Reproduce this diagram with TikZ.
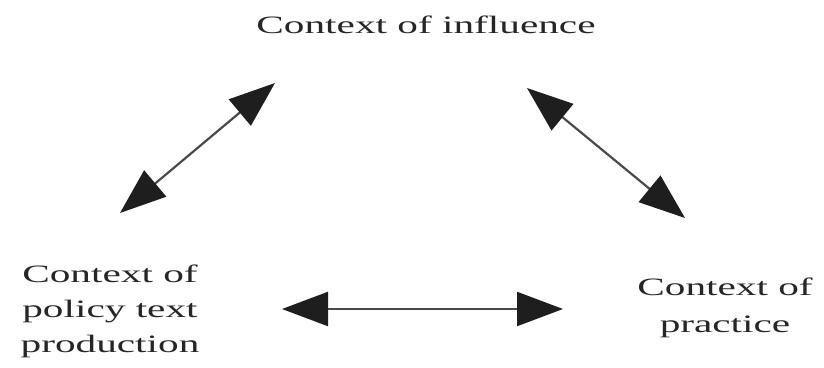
\documentclass[tikz,border=0pt]{standalone}
\usepackage{fontspec}
\setmainfont{Liberation Serif}
\usetikzlibrary{arrows.meta}
\definecolor{linegray}{HTML}{4A4A4A}
\definecolor{headblack}{HTML}{1E1E1E}
\tikzset{
  label text/.style={inner sep=0pt, anchor=base, text=black!85},
  twoway/.style={line width=2.2pt, draw=linegray,
    {Triangle[length=46pt,width=34pt,color=headblack]}-{Triangle[length=46pt,width=34pt,color=headblack]}}
}
\begin{document}
\begin{tikzpicture}[x=1pt,y=-1pt]
\path[use as bounding box, fill=white] (0,0) rectangle (824,367);
\node[label text] (infl) at (426,33) {\fontsize{25}{35}\selectfont\scalebox{1.65}[1]{Context of influence}};
\node[label text] (policy) at (110,282) {\fontsize{25}{35}\selectfont\scalebox{1.65}[1]{\begin{tabular}[t]{@{}c@{}}Context of\\policy text\\production\end{tabular}}};
\node[label text] (prac) at (725,295) {\fontsize{25}{37}\selectfont\scalebox{1.65}[1]{\begin{tabular}[t]{@{}c@{}}Context of\\practice\end{tabular}}};
\coordinate (a1) at (120,213);
\coordinate (a2) at (275,83);
\coordinate (b1) at (527,88);
\coordinate (b2) at (685,218);
\coordinate (c1) at (282,309);
\coordinate (c2) at (563,309);
\draw[twoway] (a1) -- (a2);
\draw[twoway] (b1) -- (b2);
\draw[twoway] (c1) -- (c2);
\end{tikzpicture}
\end{document}
